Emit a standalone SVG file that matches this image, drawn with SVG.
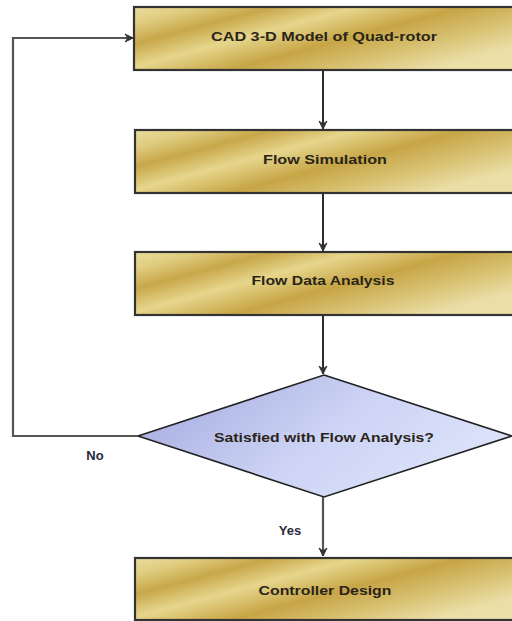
<svg xmlns="http://www.w3.org/2000/svg" width="512" height="621" viewBox="0 0 512 621">
<defs>
<linearGradient id="gold" x1="0" y1="0" x2="1" y2="0.6">
<stop offset="0" stop-color="#e9dc9e"/>
<stop offset="0.12" stop-color="#e0cd80"/>
<stop offset="0.26" stop-color="#c8a74a"/>
<stop offset="0.42" stop-color="#e6d68c"/>
<stop offset="0.62" stop-color="#c7a546"/>
<stop offset="0.82" stop-color="#d9c375"/>
<stop offset="1" stop-color="#ebdfa8"/>
</linearGradient>
<linearGradient id="lav" x1="0" y1="0.3" x2="1" y2="0.7">
<stop offset="0" stop-color="#a8aee0"/>
<stop offset="0.5" stop-color="#cdd4f5"/>
<stop offset="1" stop-color="#dfe5fb"/>
</linearGradient>
<marker id="arr" viewBox="0 0 10 10" refX="9" refY="5" markerWidth="10" markerHeight="10" markerUnits="userSpaceOnUse" orient="auto">
<path d="M1,1 L9,5 L1,9 L4,5 z" fill="#333" stroke="#333" stroke-width="1" stroke-linejoin="round"/>
</marker>
<style>
.box{fill:url(#gold);stroke:#333;stroke-width:2.2}
.dia{fill:url(#lav);stroke:#222;stroke-width:1.6}
.lbl{font-family:"Liberation Sans",Arial,sans-serif;font-weight:bold;font-size:13px;fill:#2a2418;text-anchor:middle}
.edge{fill:none;stroke:#2b2b2b;stroke-width:2;marker-end:url(#arr)}
.edge2{fill:none;stroke:#555;stroke-width:2.2;marker-end:url(#arr)}
.elbl{font-family:"Liberation Sans",Arial,sans-serif;font-weight:bold;font-size:13px;fill:#2a2a3a;text-anchor:middle}
</style>
</defs>
<g id="n1">
<rect class="box" x="134" y="7" width="390" height="63"/>
<text class="lbl" x="324" y="41" textLength="226" lengthAdjust="spacingAndGlyphs">CAD 3-D Model of Quad-rotor</text>
</g>
<g id="n2">
<rect class="box" x="135" y="130" width="390" height="63"/>
<text class="lbl" x="325" y="164" textLength="124" lengthAdjust="spacingAndGlyphs">Flow Simulation</text>
</g>
<g id="n3">
<rect class="box" x="135" y="252" width="390" height="63"/>
<text class="lbl" x="323" y="285" textLength="143" lengthAdjust="spacingAndGlyphs">Flow Data Analysis</text>
</g>
<g id="n4">
<polygon class="dia" points="324,375 512,436 324,497 138,436"/>
<text class="lbl" x="324" y="442" textLength="220" lengthAdjust="spacingAndGlyphs">Satisfied with Flow Analysis?</text>
</g>
<g id="n5">
<rect class="box" x="135" y="558" width="390" height="62"/>
<text class="lbl" x="325" y="595" textLength="133" lengthAdjust="spacingAndGlyphs">Controller Design</text>
</g>
<g id="connectors">
<path class="edge" d="M323,70 V129"/>
<path class="edge" d="M323,193 V251"/>
<path class="edge" d="M323,316 V374"/>
<path class="edge2" d="M323,497 V556"/>
<path class="edge2" d="M138,436 H13 V38 H133"/>
<text class="elbl" x="95" y="460">No</text>
<text class="elbl" x="290" y="535">Yes</text>
</g>
</svg>
